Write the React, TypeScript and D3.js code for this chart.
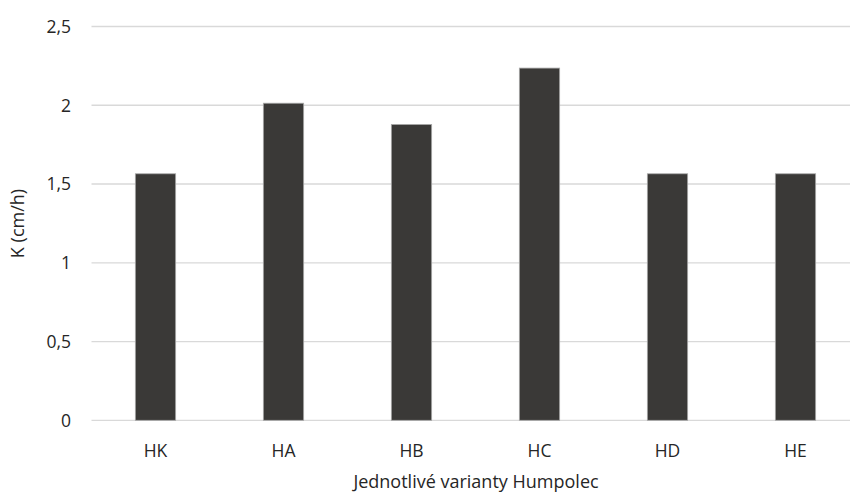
import React from "react";
import * as d3 from "d3";

const categories = ["HK", "HA", "HB", "HC", "HD", "HE"];
const values = [1.565, 2.013, 1.878, 2.236, 1.565, 1.565];
const yTicks = [0, 0.5, 1, 1.5, 2, 2.5];
const yTickLabels = ["0", "0,5", "1", "1,5", "2", "2,5"];
const xTitle = "Jednotlivé varianty Humpolec";
const yTitle = "K (cm/h)";

export default function App() {
  const W = 850;
  const H = 496;
  const x = d3
    .scaleBand<string>()
    .domain(categories)
    .range([91.5, 859.5])
    .paddingInner(0.685)
    .paddingOuter(0.3425);
  const y = d3.scaleLinear().domain([0, 2.5]).range([420.3, 26.5]);
  const font = "'Open Sans', 'Noto Sans', sans-serif";
  const textColor = "#262626";

  return (
    <svg
      width={W}
      height={H}
      style={{ position: "absolute", left: 0, top: 0, background: "#fff" }}
      fontFamily={font}
    >
      <rect x={0} y={0} width={W} height={H} fill="#fff" />
      {yTicks.map((t, i) => (
        <g key={t}>
          <line
            x1={91.5}
            x2={W}
            y1={y(t)}
            y2={y(t)}
            stroke="#d9d9d9"
            strokeWidth={1.3}
          />
          <text
            x={71}
            y={y(t)}
            dy="0.36em"
            textAnchor="end"
            fontSize={17.5}
            fill={textColor}
          >
            {yTickLabels[i]}
          </text>
        </g>
      ))}
      {categories.map((c, i) => (
        <g key={c}>
          <rect
            x={x(c)}
            y={y(values[i])}
            width={x.bandwidth()}
            height={y(0) - y(values[i])}
            fill="#3a3937"
            stroke="#a8a8a8"
            strokeWidth={0.8}
          />
          <text
            x={(x(c) as number) + x.bandwidth() / 2}
            y={456.5}
            textAnchor="middle"
            fontSize={17.5}
            fill={textColor}
          >
            {c}
          </text>
        </g>
      ))}
      <text
        x={476}
        y={488}
        textAnchor="middle"
        fontSize={18}
        fill={textColor}
      >
        {xTitle}
      </text>
      <text
        transform={`translate(24, 223.5) rotate(-90)`}
        textAnchor="middle"
        fontSize={18}
        fill={textColor}
      >
        {yTitle}
      </text>
    </svg>
  );
}
